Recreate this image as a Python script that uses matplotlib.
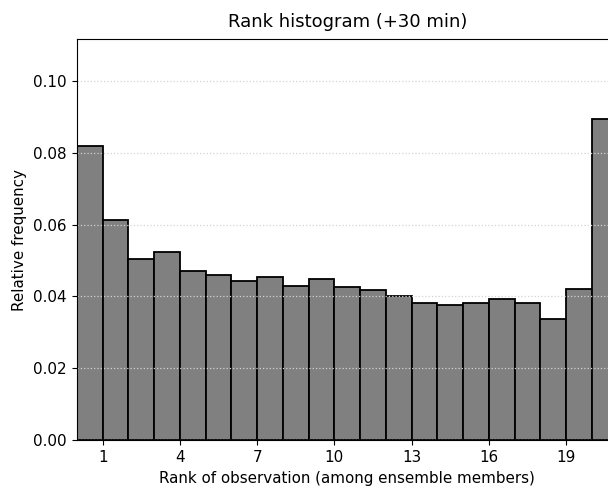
import matplotlib
matplotlib.use("Agg")
import matplotlib.pyplot as plt
import numpy as np

# relative frequency of the observation rank among the ensemble members
rank_freq = [0.0819, 0.0612, 0.0505, 0.0523, 0.0472, 0.0460, 0.0444,
             0.0455, 0.0430, 0.0448, 0.0427, 0.0418, 0.0401, 0.0382,
             0.0376, 0.0382, 0.0393, 0.0382, 0.0338, 0.0421, 0.0894]
tick_ranks = [1, 4, 7, 10, 13, 16, 19]
lead_time = "+30 min"

plt.rcParams["font.size"] = 10.9
plt.rcParams["xtick.major.size"] = 3.8
plt.rcParams["ytick.major.size"] = 3.8

n_bins = len(rank_freq)
edges = np.arange(n_bins)

fig = plt.figure(figsize=(6.08, 4.87), dpi=100)
ax = fig.add_axes([0.1266, 0.0965, 0.889, 0.8234])

ax.bar(edges, rank_freq, width=1.0, align="edge",
       color="gray", edgecolor="black", linewidth=1.3)

ax.set_xlim(0, n_bins)
ax.set_ylim(0, 1.25 * max(rank_freq))
ax.set_xticks(tick_ranks)
ax.set_xticklabels([str(r) for r in tick_ranks])
ax.set_yticks(np.arange(0, 0.11, 0.02))
ax.yaxis.set_major_formatter(matplotlib.ticker.FormatStrFormatter("%.2f"))
ax.grid(axis="y", linestyle=":", color="lightgray", linewidth=0.9)

ax.set_title(f"Rank histogram ({lead_time})", fontsize=13, pad=8.5)
ax.set_xlabel("Rank of observation (among ensemble members)", labelpad=4)
ax.set_ylabel("Relative frequency", labelpad=4.5)

fig.savefig("out.png", dpi=100)
